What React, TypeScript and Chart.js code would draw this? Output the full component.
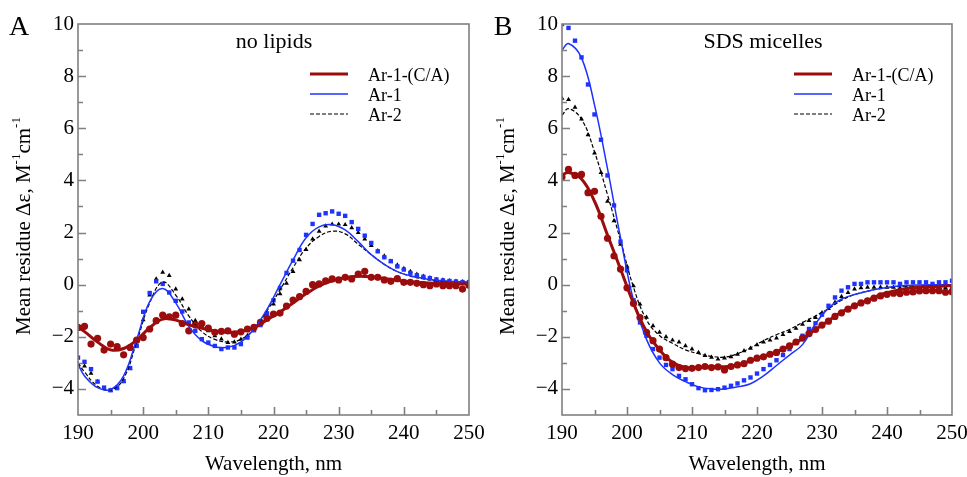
import React, { useEffect, useRef } from 'react';
import { Chart, registerables } from 'chart.js';

Chart.register(...registerables);

const FONT = "'Liberation Serif', 'Times New Roman', Times, serif";

// wavelength grid of the measured points (nm)
const wavelengths = [
  190, 191, 192, 193, 194, 195, 196, 197, 198, 199,
  200, 201, 202, 203, 204, 205, 206, 207, 208, 209,
  210, 211, 212, 213, 214, 215, 216, 217, 218, 219,
  220, 221, 222, 223, 224, 225, 226, 227, 228, 229,
  230, 231, 232, 233, 234, 235, 236, 237, 238, 239,
  240, 241, 242, 243, 244, 245, 246, 247, 248, 249, 250,
];
// wavelength grid of the fitted curves (nm)
const fitWavelengths = [
  190, 191, 193, 195, 197, 199, 201, 203, 205, 207, 209, 211, 213, 215, 217, 219,
  221, 223, 225, 227, 229, 231, 233, 235, 237, 239, 241, 243, 245, 247, 249, 250,
];

const seriesLabels = ['Ar-1-(C/A)', 'Ar-1', 'Ar-2'];
const xTickValues = [190, 200, 210, 220, 230, 240, 250];
const yTickValues = [-4, -2, 0, 2, 4, 6, 8, 10];

// ---------- Panel A: no lipids ----------
const aCAPoints = [
  -1.64, -1.6, -2.28, -2.06, -2.51, -2.28, -2.38, -2.69, -2.41, -2.13,
  -2.03, -1.7, -1.38, -1.17, -1.23, -1.17, -1.49, -1.77, -1.54, -1.49,
  -1.67, -1.83, -1.79, -1.77, -1.9, -1.81, -1.7, -1.64, -1.45, -1.29,
  -1.13, -1.09, -0.82, -0.59, -0.46, -0.26, 0.0, 0.03, 0.15, 0.22,
  0.18, 0.28, 0.22, 0.41, 0.51, 0.28, 0.28, 0.18, 0.13, 0.23,
  0.09, 0.09, 0.05, 0.0, -0.04, 0.03, -0.04, -0.04, -0.04, -0.17, -0.02,
];
const aAr1Points = [
  -2.8, -2.96, -3.24, -3.72, -3.95, -4.05, -3.97, -3.7, -3.2, -2.35,
  -1.04, -0.32, 0.13, 0.03, -0.3, -0.62, -1.03, -1.45, -1.77, -2.09,
  -2.22, -2.35, -2.47, -2.41, -2.41, -2.28, -2.03, -1.75, -1.55, -1.1,
  -0.6, -0.13, 0.45, 0.92, 1.33, 1.91, 2.33, 2.68, 2.74, 2.81,
  2.72, 2.64, 2.4, 2.14, 1.88, 1.6, 1.28, 1.05, 0.9, 0.7,
  0.58, 0.45, 0.36, 0.3, 0.25, 0.2, 0.16, 0.14, 0.12, 0.1, 0.1,
];
const aAr2Points = [
  -3.05, -3.12, -3.4, -3.72, -3.98, -4.05, -3.95, -3.72, -3.22, -2.32,
  -1.35, -0.4, 0.22, 0.47, 0.35, -0.17, -0.55, -0.94, -1.38, -1.58,
  -1.77, -1.96, -2.09, -2.22, -2.2, -2.1, -1.95, -1.75, -1.5, -1.12,
  -0.75, -0.35, 0.05, 0.5, 0.95, 1.35, 1.75, 2.05, 2.25, 2.32,
  2.32, 2.3, 2.18, 2.0, 1.75, 1.5, 1.3, 1.1, 0.9, 0.75,
  0.62, 0.5, 0.4, 0.32, 0.26, 0.2, 0.18, 0.15, 0.13, 0.11, 0.1,
];
const aCAFit = [
  -1.65, -1.8, -2.2, -2.5, -2.45, -2.13, -1.65, -1.32, -1.36, -1.54, -1.67, -1.78, -1.83, -1.8, -1.65, -1.35,
  -1.05, -0.7, -0.35, -0.05, 0.15, 0.27, 0.32, 0.3, 0.24, 0.17, 0.11, 0.07, 0.05, 0.04, 0.03, 0.03,
];
const aAr1Fit = [
  -3.05, -3.5, -3.95, -4.02, -3.5, -2.1, -0.65, -0.15, -0.7, -1.6, -2.15, -2.38, -2.4, -2.2, -1.7, -0.95,
  0.0, 0.95, 1.8, 2.22, 2.3, 2.1, 1.65, 1.15, 0.78, 0.5, 0.34, 0.24, 0.17, 0.13, 0.11, 0.1,
];
const aAr2Fit = [
  -3.0, -3.35, -3.9, -4.05, -3.6, -2.2, -0.7, 0.1, -0.4, -1.2, -1.8, -2.1, -2.2, -2.1, -1.7, -1.0,
  -0.2, 0.65, 1.4, 1.85, 2.05, 1.95, 1.55, 1.15, 0.78, 0.5, 0.33, 0.22, 0.15, 0.12, 0.1, 0.1,
];

// ---------- Panel B: SDS micelles ----------
const bCAPoints = [
  4.13, 4.42, 4.19, 4.23, 3.53, 3.58, 2.62, 1.78, 1.1, 0.6,
  -0.12, -0.72, -1.26, -1.83, -2.15, -2.47, -2.8, -3.05, -3.18, -3.22,
  -3.21, -3.18, -3.14, -3.18, -3.15, -3.27, -3.14, -3.08, -3.03, -2.9,
  -2.82, -2.77, -2.67, -2.6, -2.47, -2.35, -2.2, -2.05, -1.88, -1.72,
  -1.55, -1.4, -1.22, -1.08, -0.94, -0.81, -0.7, -0.62, -0.52, -0.43,
  -0.37, -0.33, -0.34, -0.29, -0.28, -0.24, -0.23, -0.23, -0.23, -0.29, -0.27,
];
const bAr1Points = [
  10.0, 9.85, 9.36, 8.72, 7.68, 6.53, 5.56, 4.19, 3.04, 1.65,
  0.55, -0.6, -1.45, -1.96, -2.47, -2.8, -3.08, -3.24, -3.5, -3.63,
  -3.82, -3.97, -4.05, -4.04, -4.01, -3.95, -3.88, -3.79, -3.67, -3.56,
  -3.41, -3.24, -3.08, -2.9, -2.7, -2.47, -2.22, -1.96, -1.7, -1.48,
  -1.15, -0.81, -0.49, -0.23, -0.1, 0.03, 0.03, 0.09, 0.09, 0.09,
  0.09, 0.09, 0.03, 0.09, 0.09, 0.09, 0.09, 0.03, 0.09, 0.09, 0.15,
];
const bAr2Points = [
  7.15, 7.1, 6.8, 6.35, 5.75, 5.05, 4.3, 3.2, 2.45, 1.55,
  0.7, -0.05, -0.75, -1.25, -1.58, -1.83, -2.0, -2.13, -2.2, -2.35,
  -2.47, -2.6, -2.72, -2.79, -2.86, -2.82, -2.77, -2.67, -2.54, -2.44,
  -2.31, -2.2, -2.13, -2.05, -1.92, -1.8, -1.68, -1.52, -1.38, -1.26,
  -1.08, -0.92, -0.68, -0.46, -0.3, -0.17, -0.12, -0.1, -0.1, -0.1,
  -0.1, -0.1, -0.12, -0.1, -0.1, -0.12, -0.12, -0.12, -0.1, -0.12, -0.1,
];
const bCAFit = [
  4.2, 4.3, 4.05, 3.2, 1.9, 0.6, -0.72, -1.8, -2.5, -2.98, -3.18, -3.17, -3.14, -3.15, -3.08, -2.92,
  -2.75, -2.58, -2.35, -2.07, -1.72, -1.38, -1.05, -0.8, -0.6, -0.38, -0.25, -0.15, -0.1, -0.07, -0.05, -0.04,
];
const bAr1Fit = [
  9.0, 9.25, 8.7, 6.9, 4.45, 1.8, -0.6, -2.1, -3.0, -3.45, -3.72, -3.92, -4.0, -4.0, -3.92, -3.8,
  -3.5, -3.1, -2.7, -2.3, -1.5, -0.9, -0.55, -0.38, -0.25, -0.15, -0.07, -0.03, -0.01, 0.0, 0.0, 0.0,
];
const bAr2Fit = [
  6.5, 6.75, 6.35, 5.1, 3.45, 1.7, -0.1, -1.35, -1.95, -2.25, -2.5, -2.65, -2.75, -2.78, -2.65, -2.42,
  -2.15, -1.92, -1.72, -1.45, -1.2, -0.92, -0.6, -0.38, -0.25, -0.15, -0.09, -0.06, -0.05, -0.05, -0.05, -0.05,
];

const RED = '#9b0c0c';
const BLUE = '#1f33ff';
const BLACK = '#000000';
const FRAME = '#808080';

const pairs = (xs: number[], ys: number[]) => xs.map((x, i) => ({ x, y: ys[i] }));

function buildDatasets(caPts: number[], ar1Pts: number[], ar2Pts: number[], caFit: number[], ar1Fit: number[], ar2Fit: number[]) {
  return [
    { label: seriesLabels[0], data: pairs(fitWavelengths, caFit), showLine: true, borderColor: RED, backgroundColor: RED, borderWidth: 3, pointRadius: 0, tension: 0.4, legendLine: true },
    { label: seriesLabels[1], data: pairs(fitWavelengths, ar1Fit), showLine: true, borderColor: BLUE, backgroundColor: BLUE, borderWidth: 1.5, pointRadius: 0, tension: 0.4, legendLine: true },
    { label: seriesLabels[2], data: pairs(fitWavelengths, ar2Fit), showLine: true, borderColor: BLACK, backgroundColor: BLACK, borderWidth: 1.2, borderDash: [4, 2], pointRadius: 0, tension: 0.4, legendLine: true },
    { label: seriesLabels[0] + ' data', data: pairs(wavelengths, caPts), showLine: false, pointStyle: 'circle', pointRadius: 3.6, pointBackgroundColor: RED, pointBorderWidth: 0, borderColor: RED },
    { label: seriesLabels[1] + ' data', data: pairs(wavelengths, ar1Pts), showLine: false, pointStyle: 'rect', pointRadius: 3.1, pointBackgroundColor: BLUE, pointBorderWidth: 0, borderColor: BLUE },
    { label: seriesLabels[2] + ' data', data: pairs(wavelengths, ar2Pts), showLine: false, pointStyle: 'triangle', pointRadius: 2.8, pointBackgroundColor: BLACK, pointBorderWidth: 0, borderColor: BLACK },
  ];
}

const decorPlugin = {
  id: 'decor',
  afterDraw(chart: any) {
    const o = chart.options.plugins.decor;
    const { ctx } = chart;
    const { left, right, top, bottom } = chart.chartArea;
    const xs = chart.scales.x;
    const ys = chart.scales.y;
    ctx.save();
    // frame
    ctx.strokeStyle = FRAME;
    ctx.lineWidth = 1.6;
    ctx.strokeRect(left, top, right - left, bottom - top);
    // inward ticks
    ctx.beginPath();
    for (let v = Math.ceil(ys.min); v < ys.max; v += 1) {
      if (v <= ys.min) continue;
      const py = Math.round(ys.getPixelForValue(v)) + 0.5;
      const len = v % 2 === 0 ? 8 : 5;
      ctx.moveTo(left, py);
      ctx.lineTo(left + len, py);
    }
    for (let v = xs.min + 5; v < xs.max; v += 5) {
      const px = Math.round(xs.getPixelForValue(v)) + 0.5;
      const len = v % 10 === 0 ? 8 : 5;
      ctx.moveTo(px, bottom);
      ctx.lineTo(px, bottom - len);
    }
    ctx.stroke();

    ctx.fillStyle = '#000';
    // panel letter
    ctx.font = `28px ${FONT}`;
    ctx.textAlign = 'center';
    ctx.textBaseline = 'alphabetic';
    ctx.fillText(o.letter, 19, 35);
    // panel title
    ctx.font = `22px ${FONT}`;
    ctx.fillText(o.title, left + o.titleDx, 48);

    // y axis title with superscripts
    const big = `21px ${FONT}`;
    const small = `13px ${FONT}`;
    const parts: [string, boolean][] = [['Mean residue \u0394\u03b5, M', false], ['-1', true], ['cm', false], ['-1', true]];
    let total = 0;
    const widths = parts.map(([t, sup]) => { ctx.font = sup ? small : big; const w = ctx.measureText(t).width; total += w; return w; });
    ctx.save();
    ctx.translate(24, 226);
    ctx.rotate(-Math.PI / 2);
    ctx.textAlign = 'left';
    ctx.textBaseline = 'middle';
    let cx = -total / 2;
    parts.forEach(([t, sup], i) => {
      ctx.font = sup ? small : big;
      ctx.fillText(t, cx, sup ? -7 : 0);
      cx += widths[i];
    });
    ctx.restore();

    // legend
    const legendSets = chart.data.datasets.filter((d: any) => d.legendLine);
    ctx.font = `18px ${FONT}`;
    ctx.textAlign = 'left';
    ctx.textBaseline = 'alphabetic';
    legendSets.forEach((d: any, i: number) => {
      const ly = top + 50 + i * 20;
      ctx.strokeStyle = d.borderColor;
      ctx.lineWidth = d.borderWidth;
      ctx.setLineDash(d.borderDash || []);
      ctx.beginPath();
      ctx.moveTo(left + 232, ly);
      ctx.lineTo(left + 270, ly);
      ctx.stroke();
      ctx.setLineDash([]);
      ctx.fillStyle = '#000';
      ctx.fillText(d.label, left + 290, ly + 7);
    });
    ctx.restore();
  },
};

function makeConfig(datasets: any[], letter: string, title: string, titleDx: number, rightPad: number): any {
  return {
    type: 'scatter',
    data: { datasets },
    plugins: [decorPlugin],
    options: {
      animation: false,
      responsive: false,
      devicePixelRatio: 1,
      layout: { padding: { left: 0, top: 24, right: rightPad, bottom: 0 } },
      plugins: {
        legend: { display: false },
        tooltip: { enabled: false },
        decor: { letter, title, titleDx },
      },
      scales: {
        x: {
          type: 'linear',
          min: 190,
          max: 250,
          grid: { display: false, drawTicks: false },
          border: { display: false },
          afterBuildTicks: (s: any) => { s.ticks = xTickValues.map((v) => ({ value: v })); },
          afterFit: (s: any) => { s.height = 62; s.paddingLeft = 0; s.paddingRight = 0; },
          ticks: { color: '#000', padding: 6, maxRotation: 0, autoSkip: false, font: { family: FONT, size: 21 } },
          title: { display: true, text: 'Wavelength, nm', color: '#000', padding: { top: 0, bottom: 0 }, font: { family: FONT, size: 21 } },
        },
        y: {
          type: 'linear',
          min: -5,
          max: 10,
          grid: { display: false, drawTicks: false },
          border: { display: false },
          afterBuildTicks: (s: any) => { s.ticks = yTickValues.map((v) => ({ value: v })); },
          afterFit: (s: any) => { s.width = 78; s.paddingTop = 0; s.paddingBottom = 0; },
          ticks: {
            color: '#000',
            padding: 4,
            autoSkip: false,
            font: { family: FONT, size: 21 },
            callback: (v: number) => (v < 0 ? '\u2212' + Math.abs(v) : String(v)),
          },
        },
      },
    },
  };
}

export default function App() {
  const refA = useRef<HTMLCanvasElement>(null);
  const refB = useRef<HTMLCanvasElement>(null);
  useEffect(() => {
    const a = new Chart(refA.current as HTMLCanvasElement, makeConfig(
      buildDatasets(aCAPoints, aAr1Points, aAr2Points, aCAFit, aAr1Fit, aAr2Fit), 'A', 'no lipids', 196, 31));
    const b = new Chart(refB.current as HTMLCanvasElement, makeConfig(
      buildDatasets(bCAPoints, bAr1Points, bAr2Points, bCAFit, bAr1Fit, bAr2Fit), 'B', 'SDS micelles', 201, 15));
    return () => { a.destroy(); b.destroy(); };
  }, []);
  return (
    <div style={{ position: 'absolute', left: 0, top: 0, width: 967, height: 477, background: '#fff' }}>
      <canvas ref={refA} width={500} height={477} style={{ position: 'absolute', left: 0, top: 0, width: 500, height: 477 }} />
      <canvas ref={refB} width={483} height={477} style={{ position: 'absolute', left: 484, top: 0, width: 483, height: 477 }} />
    </div>
  );
}
